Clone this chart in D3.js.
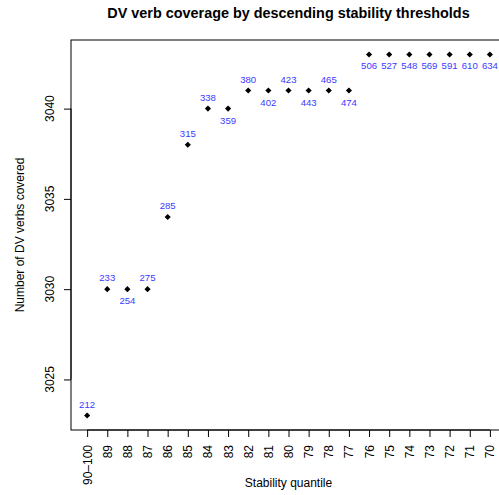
<!DOCTYPE html>
<html><head><meta charset="utf-8">
<script src="https://cdn.jsdelivr.net/npm/d3@7"></script>
<style>body{margin:0;background:#fff}svg{display:block}</style>
</head><body>
<script>
const quantiles = ["90–100","89","88","87","86","85","84","83","82","81","80","79","78","77","76","75","74","73","72","71","70"];
const coverage = [3023,3030,3030,3030,3034,3038,3040,3040,3041,3041,3041,3041,3041,3041,3043,3043,3043,3043,3043,3043,3043];
const counts = [212,233,254,275,285,315,338,359,380,402,423,443,465,474,506,527,548,569,591,610,634];
const labelPos = ["above","above","below","above","above","above","above","below","above","below","above","below","above","below","below","below","below","below","below","below","below"];
const yTicks = [3025,3030,3035,3040];

const W = 499, H = 495;
const L = 71, R = 506, T = 40, B = 430;
const svg = d3.select("body").append("svg").attr("width", W).attr("height", H);
const font = "'Liberation Sans', Arial, Helvetica, sans-serif";

const n = quantiles.length;
const x = d3.scaleLinear().domain([1 - 0.04*(n-1), n + 0.04*(n-1)]).range([L, R]);
const yMin = d3.min(coverage), yMax = d3.max(coverage), pad = 0.04*(yMax - yMin);
const y = d3.scaleLinear().domain([yMin - pad, yMax + pad]).range([B, T]);

// box
svg.append("rect").attr("x", L).attr("y", T).attr("width", R - L).attr("height", B - T)
  .attr("fill", "none").attr("stroke", "#000").attr("stroke-width", 1);

// y axis
const yAxis = svg.append("g").attr("transform", `translate(${L},0)`)
  .call(d3.axisLeft(y).tickValues(yTicks).tickSize(7).tickFormat(""));
yAxis.select(".domain").attr("d", `M0,${y(yTicks[0])}V${y(yTicks[yTicks.length-1])}`);
yTicks.forEach(t => {
  svg.append("text").attr("transform", `translate(${L - 17},${y(t)}) rotate(-90)`)
    .attr("text-anchor", "middle").attr("font-family", font).attr("font-size", 12).text(t);
});

// x axis
const idx = d3.range(1, n + 1);
const xAxis = svg.append("g").attr("transform", `translate(0,${B})`)
  .call(d3.axisBottom(x).tickValues(idx).tickSize(7).tickFormat(""));
xAxis.select(".domain").attr("d", `M${x(1)},0H${x(n)}`);
idx.forEach((i, k) => {
  svg.append("text").attr("transform", `translate(${x(i) + 4.5},${B + 15}) rotate(-90)`)
    .attr("text-anchor", "end").attr("font-family", font).attr("font-size", 12).text(quantiles[k]);
});
svg.selectAll(".tick line").attr("stroke", "#000");
svg.selectAll(".domain").attr("stroke", "#000");

// points
const diamond = d3.symbol().type(d3.symbolDiamond2).size(24);
svg.append("g").selectAll("path").data(coverage).join("path")
  .attr("d", diamond)
  .attr("transform", (d, i) => `translate(${x(i + 1)},${y(d)})`)
  .attr("fill", "#000");

// labels
svg.append("g").selectAll("text").data(counts).join("text")
  .attr("x", (d, i) => x(i + 1))
  .attr("y", (d, i) => y(coverage[i]) + (labelPos[i] === "above" ? -8 : 15))
  .attr("text-anchor", "middle").attr("font-family", font).attr("font-size", 9.6)
  .attr("fill", "#3a3aff").text(d => d);

// titles
svg.append("text").attr("x", (L + R) / 2).attr("y", 18).attr("text-anchor", "middle")
  .attr("font-family", font).attr("font-size", 14.4).attr("font-weight", "bold")
  .text("DV verb coverage by descending stability thresholds");
svg.append("text").attr("x", (L + R) / 2).attr("y", 487).attr("text-anchor", "middle")
  .attr("font-family", font).attr("font-size", 12).text("Stability quantile");
svg.append("text").attr("transform", `translate(24,${(T + B) / 2}) rotate(-90)`)
  .attr("text-anchor", "middle").attr("font-family", font).attr("font-size", 12)
  .text("Number of DV verbs covered");
</script>
</body></html>
